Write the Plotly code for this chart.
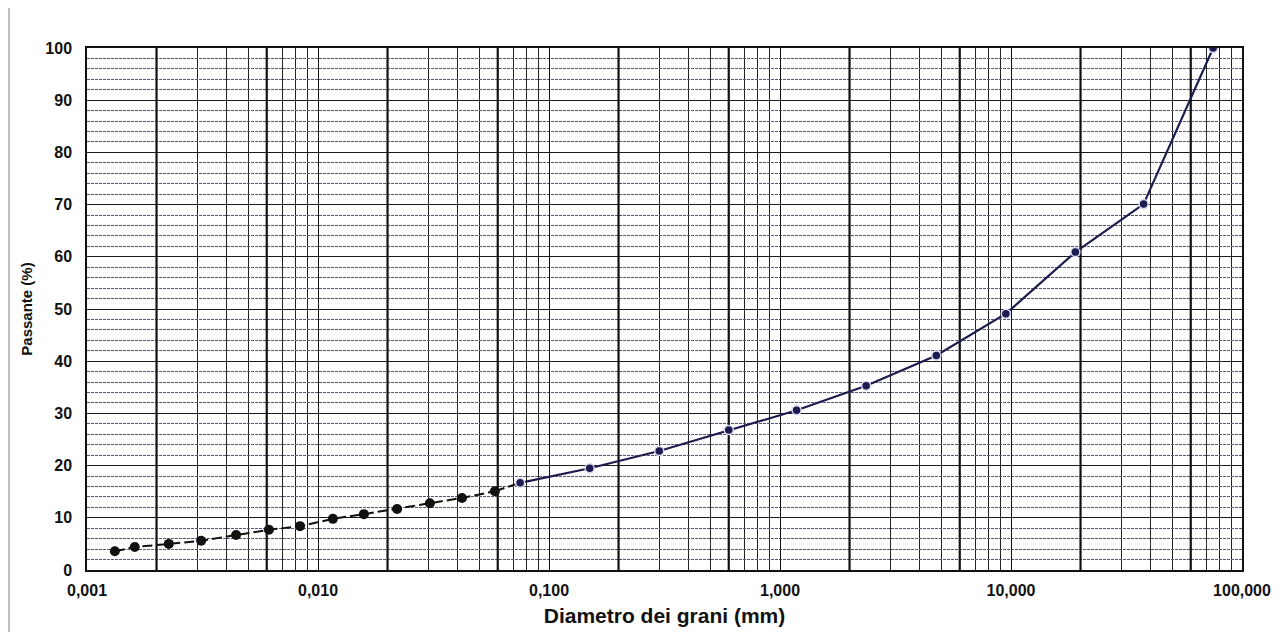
import plotly.graph_objects as go

# --- data ---
hydro_d = [0.00132, 0.00161, 0.00226, 0.00312, 0.00442, 0.00613, 0.00836,
           0.0116, 0.0158, 0.0220, 0.0305, 0.0420, 0.0583]
hydro_p = [3.6, 4.4, 5.0, 5.6, 6.7, 7.7, 8.4, 9.8, 10.7, 11.7, 12.8, 13.8, 15.1]

sieve_d = [0.075, 0.15, 0.30, 0.60, 1.18, 2.36, 4.75, 9.5, 19.0, 37.5, 75.0]
sieve_p = [16.7, 19.5, 22.8, 26.8, 30.6, 35.3, 41.1, 49.1, 60.9, 70.1, 100.0]

decade_vals = [0.001, 0.01, 0.1, 1, 10, 100]
decade_text = ["0,001", "0,010", "0,100", "1,000", "10,000", "100,000"]
minor_vals = [m * d for d in [0.001, 0.01, 0.1, 1, 10] for m in range(2, 10)]
thick_vals = [0.002, 0.006, 0.02, 0.06, 0.2, 0.6, 2, 6, 20, 60]
y_ticks = list(range(0, 101, 10))

FONT = "Liberation Sans, Arial, sans-serif"

fig = go.Figure()

# thick classification grid lines (drawn as traces through the data scale)
for v in thick_vals:
    fig.add_trace(go.Scatter(x=[v, v], y=[0, 100], mode="lines",
                             line=dict(color="#111111", width=2.2),
                             hoverinfo="skip", showlegend=False))

# dashed connector hydrometer -> sieve
fig.add_trace(go.Scatter(x=[hydro_d[-1], sieve_d[0]], y=[hydro_p[-1], sieve_p[0]],
                         mode="lines", line=dict(color="#111111", width=2, dash="10px,4px"),
                         showlegend=False, hoverinfo="skip"))

# sieve curve
fig.add_trace(go.Scatter(x=sieve_d, y=sieve_p, mode="lines+markers",
                         line=dict(color="#1c1c4e", width=2.2),
                         marker=dict(size=9, color="#1c1c4e",
                                     line=dict(color="#d8d8f0", width=1.5)),
                         showlegend=False))

# hydrometer curve
fig.add_trace(go.Scatter(x=hydro_d, y=hydro_p, mode="lines+markers",
                         line=dict(color="#111111", width=2, dash="10px,4px"),
                         marker=dict(size=10, color="#111111"),
                         showlegend=False))

fig.update_layout(
    width=1269, height=624,
    margin=dict(l=79, r=35, t=40, b=62),
    paper_bgcolor="white", plot_bgcolor="white",
    font=dict(family=FONT, color="#111111"),
    xaxis=dict(
        type="log", range=[-3, 2], automargin=False,
        tickmode="array", tickvals=decade_vals, ticktext=decade_text,
        tickfont=dict(size=16, family=FONT, weight="bold"),
        ticks="", ticklabelstandoff=5,
        showgrid=True, gridcolor="#111111", gridwidth=1.2,
        minor=dict(tickmode="array", tickvals=minor_vals, showgrid=True,
                   gridcolor="#222222", gridwidth=1, ticks=""),
        showline=True, linecolor="#111111", linewidth=1.5, mirror=True,
        zeroline=False,
        title=dict(text="Diametro dei grani (mm)", standoff=10,
                   font=dict(size=21, family=FONT, weight="bold")),
    ),
    yaxis=dict(
        range=[0, 100], automargin=False,
        tickmode="array", tickvals=y_ticks,
        tickfont=dict(size=16, family=FONT, weight="bold"),
        ticks="", ticklabelstandoff=10,
        showgrid=True, gridcolor="#1a1a1a", gridwidth=1.4,
        minor=dict(dtick=2, tick0=0, showgrid=True, gridcolor="#55557a",
                   gridwidth=1, griddash="3px,1px", ticks=""),
        showline=True, linecolor="#111111", linewidth=1.5, mirror=True,
        zeroline=False,
        title=dict(text="Passante (%)", standoff=9,
                   font=dict(size=15, family=FONT, weight="bold")),
    ),
    shapes=[dict(type="line", xref="paper", yref="paper",
                 x0=-78 / 1155, x1=-78 / 1155,
                 y0=-62 / 522, y1=(522 + 40) / 522,
                 line=dict(color="#aaaaaa", width=1.5))],
)

fig.write_html("out.html")
